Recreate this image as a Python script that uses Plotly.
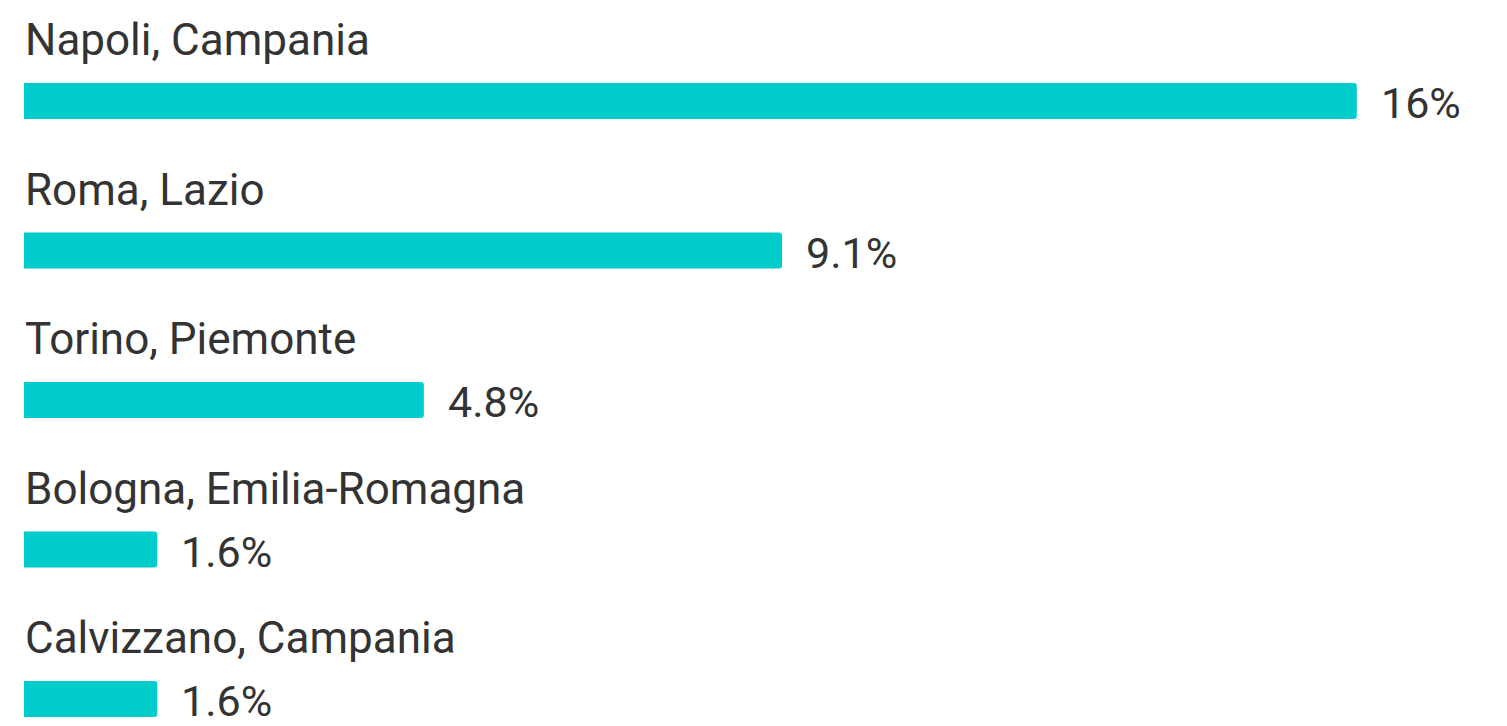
import plotly.graph_objects as go

categories = ["Napoli, Campania", "Roma, Lazio", "Torino, Piemonte",
              "Bologna, Emilia-Romagna", "Calvizzano, Campania"]
values = [16, 9.1, 4.8, 1.6, 1.6]
value_labels = ["16%", "9.1%", "4.8%", "1.6%", "1.6%"]

W, H = 1507, 726
px_per_unit_x = 83.3
x0_px = 24
row_px = 149.5
first_center_px = 101

positions = list(range(len(categories)))

fig = go.Figure()
fig.add_trace(go.Bar(
    x=values, y=positions, orientation="h",
    width=36 / row_px,
    marker=dict(color="#00CCCC", line=dict(width=0), cornerradius=3),
    hoverinfo="skip",
))

font = "Roboto, Arial, sans-serif"
for i, (c, v, lbl) in enumerate(zip(categories, values, value_labels)):
    fig.add_annotation(x=0, y=i - 61 / row_px, xref="x", yref="y",
                       text=c, showarrow=False, xanchor="left", yanchor="middle",
                       xshift=-1, font=dict(family=font, size=44, color="#333333"))
    fig.add_annotation(x=v, y=i, xref="x", yref="y",
                       text=lbl, showarrow=False, xanchor="left", yanchor="middle",
                       xshift=22, yshift=-2,
                       font=dict(family=font, size=43, color="#333333"))

fig.update_layout(
    width=W, height=H,
    margin=dict(l=0, r=0, t=0, b=0),
    paper_bgcolor="white", plot_bgcolor="white",
    showlegend=False,
    xaxis=dict(range=[-x0_px / px_per_unit_x, (W - x0_px) / px_per_unit_x],
               visible=False, fixedrange=True),
    yaxis=dict(range=[(H - first_center_px) / row_px, -first_center_px / row_px],
               visible=False, fixedrange=True),
)
fig.write_html("out.html", config={"displayModeBar": False})

with open("out.html", "r", encoding="utf-8") as f:
    html = f.read()
html = html.replace("<head>", "<head><style>html,body{margin:0;padding:0;overflow:hidden;}</style>", 1)
with open("out.html", "w", encoding="utf-8") as f:
    f.write(html)
